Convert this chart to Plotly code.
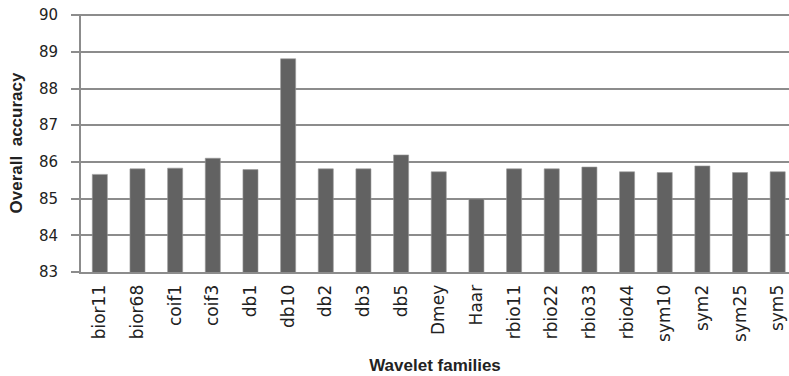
import plotly.graph_objects as go

families = ['bior11', 'bior68', 'coif1', 'coif3', 'db1', 'db10', 'db2', 'db3', 'db5', 'Dmey',
            'Haar', 'rbio11', 'rbio22', 'rbio33', 'rbio44', 'sym10', 'sym2', 'sym25', 'sym5']
accuracy = [85.66, 85.81, 85.83, 86.10, 85.79, 88.81, 85.81, 85.81, 86.19, 85.73,
            84.99, 85.81, 85.81, 85.86, 85.73, 85.71, 85.89, 85.71, 85.73]

fig = go.Figure()

fig.add_trace(go.Bar(
    x=families, y=accuracy,
    width=0.4,
    marker=dict(color='#626262', line=dict(color='#9a9a9a', width=0.6)),
))

title_font = dict(family='Liberation Sans', size=17, color='#222')

fig.update_layout(
    width=789, height=376,
    margin=dict(l=81, r=0, t=14, b=104),
    plot_bgcolor='white', paper_bgcolor='white',
    showlegend=False,
    font=dict(family='DejaVu Sans', size=15, color='#222'),
    xaxis=dict(
        range=[-0.5, 18.3],  # the reference plot area runs off the right edge
        automargin=False,
        tickangle=-90,
        tickfont=dict(size=17),
        ticklabeloverflow='allow',
        ticklabelstandoff=4,
        showline=True, linecolor='#8c8c8c', linewidth=2,
        title=dict(text='<b>Wavelet families</b>', font=title_font, standoff=18),
    ),
    yaxis=dict(
        range=[83, 90.03],
        tickvals=[83, 84, 85, 86, 87, 88, 89, 90],
        automargin=False,
        showgrid=True, gridcolor='#8c8c8c', gridwidth=1.5,
        showline=True, linecolor='#8c8c8c', linewidth=2,
        ticks='outside', ticklen=8, tickcolor='#8c8c8c', tickwidth=1.5,
        tickfont=dict(size=15),
        ticklabelstandoff=10,
        ticklabeloverflow='allow',
        zeroline=False,
        title=dict(text='<b>Overall  accuracy</b>', font=title_font, standoff=12),
    ),
)

fig.write_html("out.html", config={'displayModeBar': False},
               post_script="document.body.style.margin='0';document.body.style.overflow='hidden';")
